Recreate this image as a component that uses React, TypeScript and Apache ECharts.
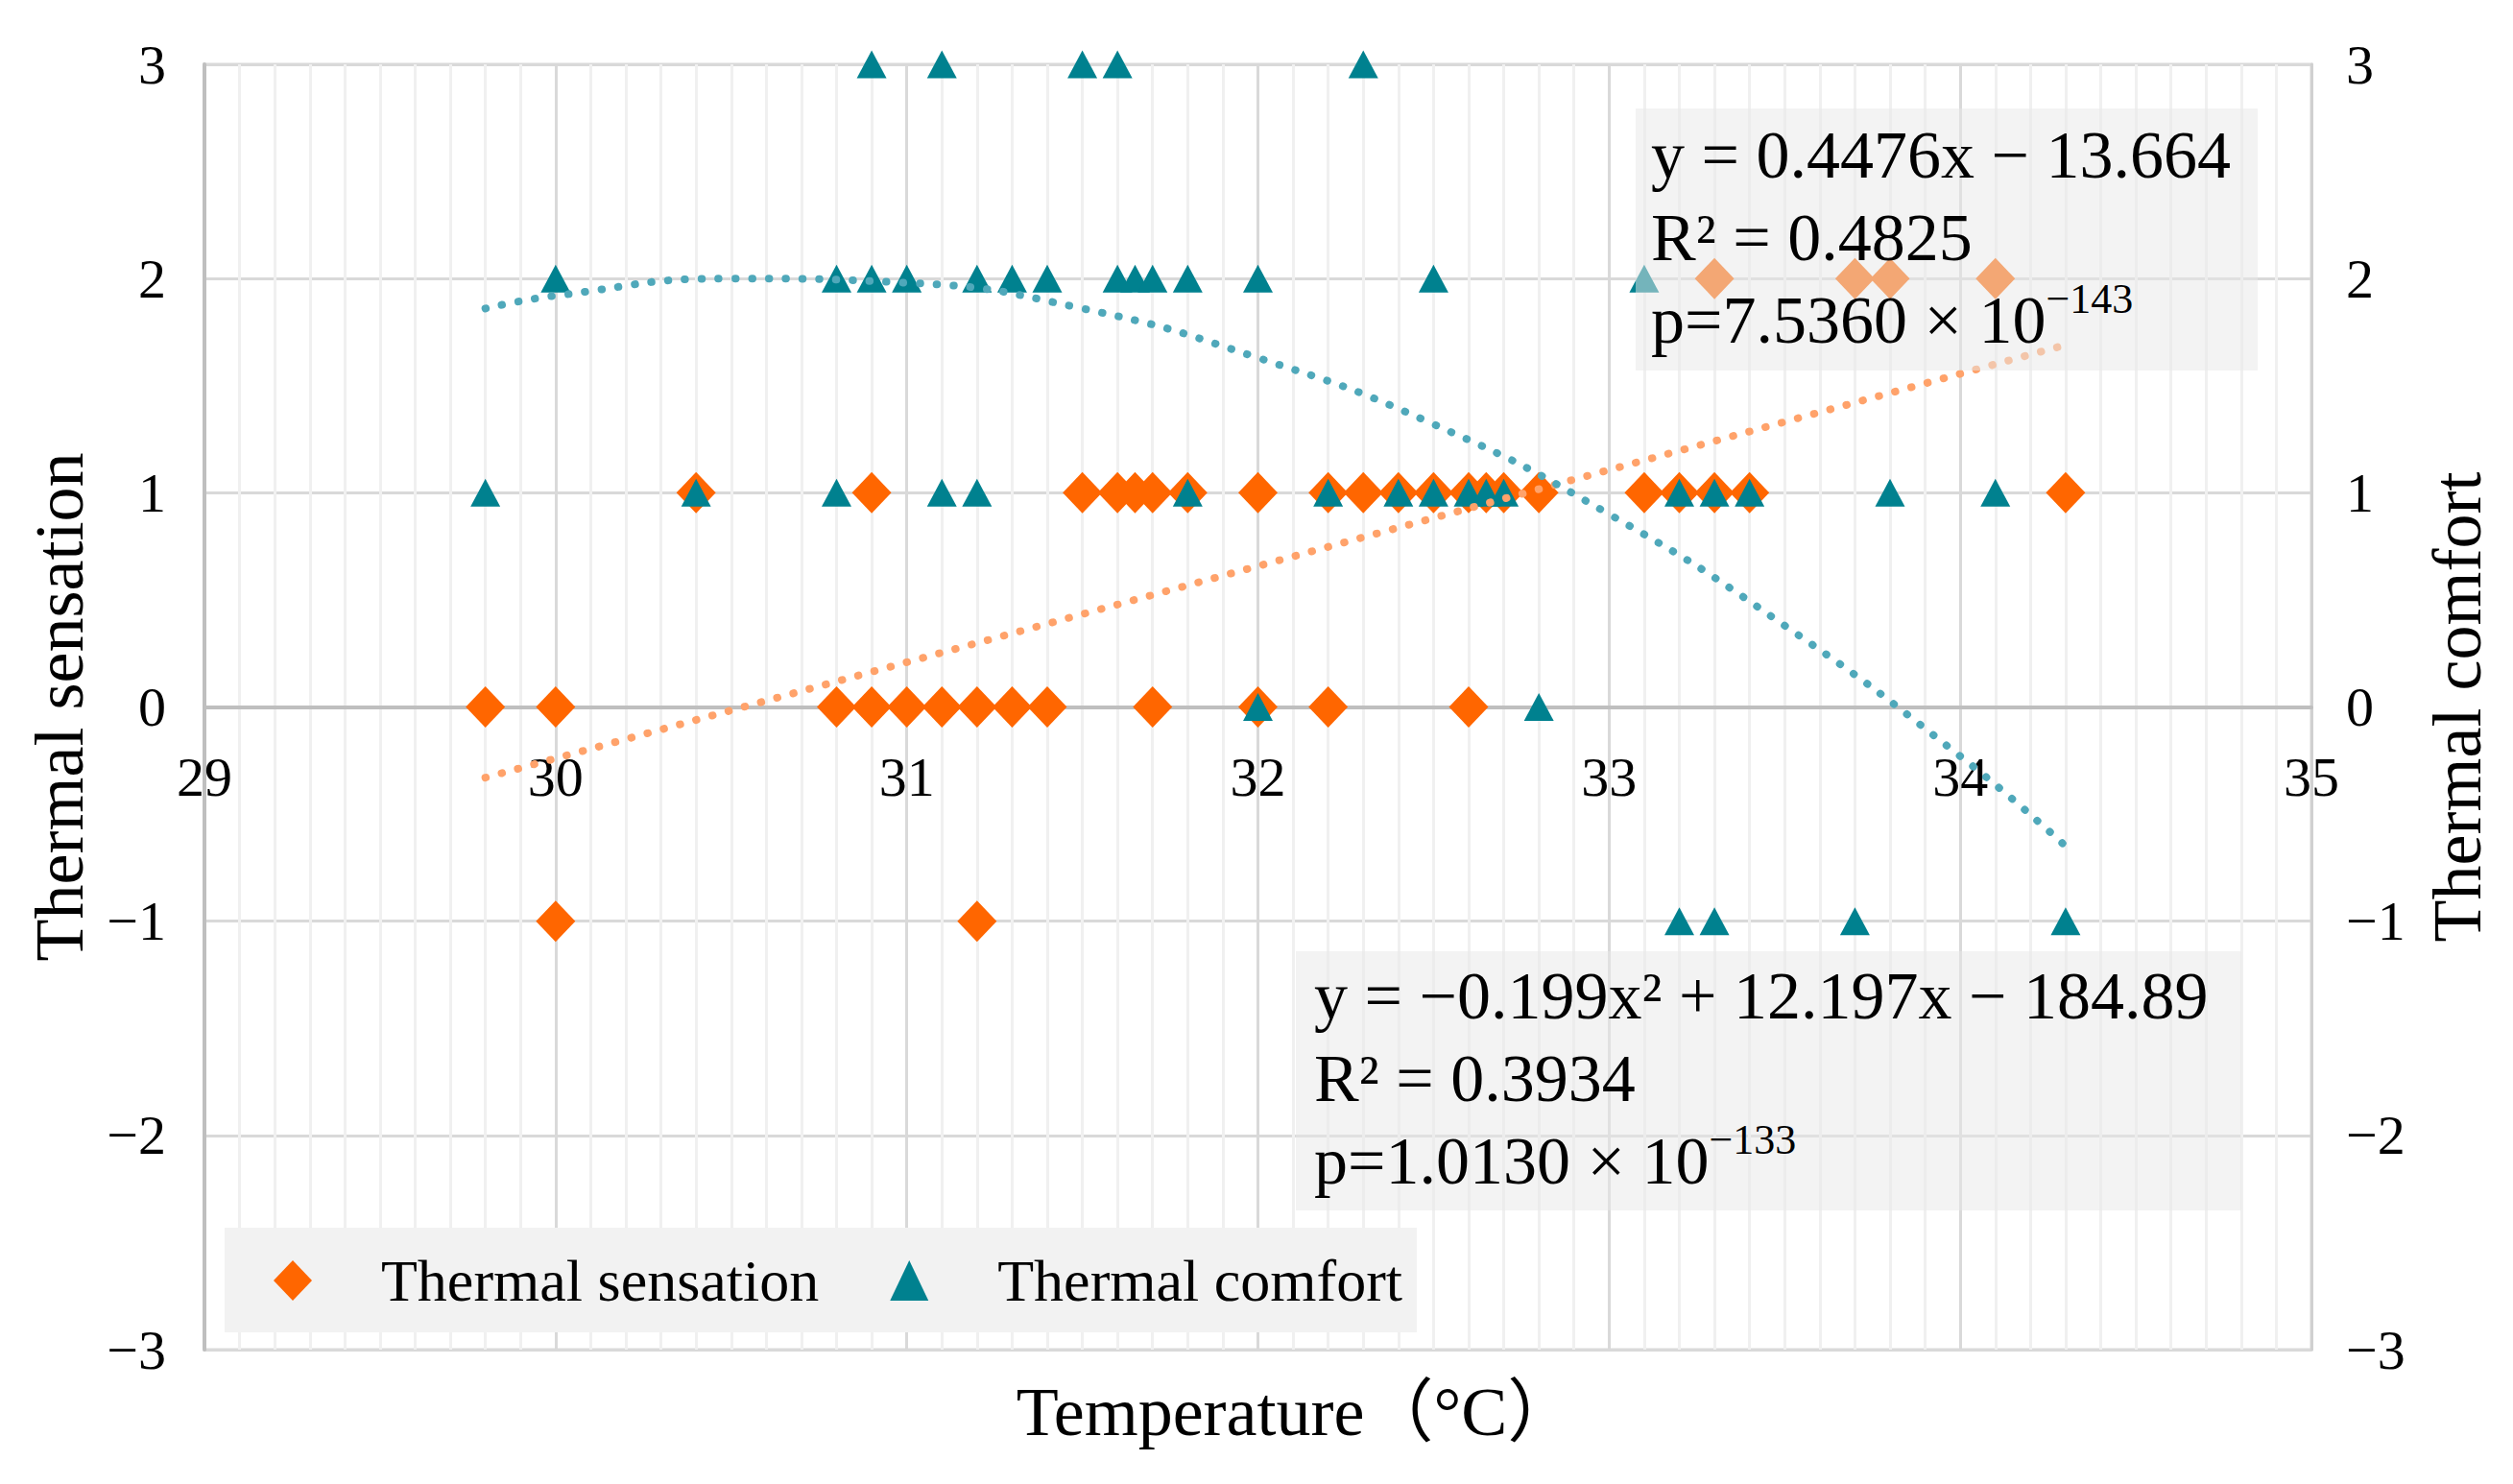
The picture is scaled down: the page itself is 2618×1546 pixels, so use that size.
import React, { useEffect, useRef } from "react";
import * as echarts from "echarts";

// Thermal sensation votes (diamonds)
const sensationTemp = [
  29.8, 30.0, 30.8, 30.9, 31.0, 31.1, 31.2, 31.3, 31.4, 31.7, 32.0, 32.2, 32.6,
  30.4, 30.9, 31.5, 31.6, 31.65, 31.7, 31.8, 32.0, 32.2, 32.3, 32.4, 32.5, 32.6, 32.65, 32.7, 32.8, 33.1, 33.2, 33.3, 33.4, 34.3,
  33.3, 33.7, 33.8, 34.1,
  30.0, 31.2,
];
const sensationVote = [
  0, 0, 0, 0, 0, 0, 0, 0, 0, 0, 0, 0, 0,
  1, 1, 1, 1, 1, 1, 1, 1, 1, 1, 1, 1, 1, 1, 1, 1, 1, 1, 1, 1, 1,
  2, 2, 2, 2,
  -1, -1,
];

// Thermal comfort votes (triangles)
const comfortTemp = [
  30.9, 31.1, 31.5, 31.6, 32.3,
  30.0, 30.8, 30.9, 31.0, 31.2, 31.3, 31.4, 31.6, 31.65, 31.7, 31.8, 32.0, 32.5, 33.1,
  29.8, 30.4, 30.8, 31.1, 31.2, 31.8, 32.2, 32.4, 32.5, 32.6, 32.65, 32.7, 33.2, 33.3, 33.4, 33.8, 34.1,
  32.0, 32.8,
  33.2, 33.3, 33.7, 34.3,
];
const comfortVote = [
  3, 3, 3, 3, 3,
  2, 2, 2, 2, 2, 2, 2, 2, 2, 2, 2, 2, 2, 2,
  1, 1, 1, 1, 1, 1, 1, 1, 1, 1, 1, 1, 1, 1, 1, 1, 1,
  0, 0,
  -1, -1, -1, -1,
];

// trend lines
const sensationTrendTemp = [29.8, 34.3];
const sensationTrendValue = [-0.33, 1.69];
const comfortTrendTemp = [29.8, 30.0, 30.5, 31.0, 31.5, 32.0, 32.5, 33.0, 33.5, 34.0, 34.3];
const comfortTrendValue = [1.86, 1.92, 2.0, 1.98, 1.86, 1.63, 1.32, 0.9, 0.38, -0.23, -0.65];

// fit labels ({s|..} = superscript)
const linearText = ["y = 0.4476x − 13.664", "R² = 0.4825", "p=7.5360 × 10{s|−143}"];
const quadText = ["y = −0.199x² + 12.197x − 184.89", "R² = 0.3934", "p=1.0130 × 10{s|−133}"];

const serif = '"Times New Roman", "Liberation Serif", "Noto Sans CJK SC", serif';
const ORANGE = "#FF6600";
const TEAL = "#00818F";

const zip = (xs: number[], ys: number[]) => xs.map((x, i) => [x, ys[i]]);
const minus = (v: number) => (v < 0 ? "−" + Math.abs(v) : String(v));

const fitLabel = (lines: string[], x: number, y: number) => ({
  type: "text",
  z: 101,
  x,
  y,
  style: {
    text: lines.join("\n"),
    fontFamily: serif,
    fontSize: 70,
    lineHeight: 86,
    fill: "#000",
    rich: {
      s: { fontFamily: serif, fontSize: 44, lineHeight: 56, verticalAlign: "top", fill: "#000" },
    },
  },
});

const App = () => {
  const chartRef = useRef<HTMLDivElement>(null);

  useEffect(() => {
    if (!chartRef.current) return;
    const chart = echarts.init(chartRef.current, null, { renderer: "svg" });

    const yAxisBase = {
      type: "value",
      min: -3,
      max: 3,
      interval: 1,
      nameLocation: "middle",
      nameTextStyle: { fontFamily: serif, fontSize: 72, color: "#000" },
      axisTick: { show: false },
      axisLabel: { fontFamily: serif, fontSize: 58, color: "#000", formatter: minus },
    };

    chart.setOption({
      animation: false,
      backgroundColor: "#fff",
      textStyle: { fontFamily: serif },
      grid: {
        left: 213,
        right: 210,
        top: 67,
        bottom: 140,
        containLabel: false,
        outerBoundsMode: "none",
        show: true,
        borderColor: "#d9d9d9",
        borderWidth: 3,
      },
      legend: {
        left: 234,
        top: 1279,
        orient: "horizontal",
        backgroundColor: "#f2f2f2",
        padding: [24, 15, 23, 51],
        itemGap: 74,
        itemWidth: 40,
        itemHeight: 42,
        data: ["Thermal sensation", "Thermal comfort"],
        textStyle: {
          fontFamily: serif,
          fontSize: 62,
          lineHeight: 62,
          color: "#000",
          padding: [0, 0, 0, 67],
        },
      },
      xAxis: {
        type: "value",
        min: 29,
        max: 35,
        interval: 1,
        // axis line and labels sit on the y = 0 line
        offset: -669.5,
        name: "Temperature（°C）",
        nameLocation: "middle",
        nameGap: 698,
        nameTextStyle: { fontFamily: serif, fontSize: 72, color: "#000", padding: [0, 0, 0, 80] },
        axisLine: { onZero: false, lineStyle: { color: "#bfbfbf", width: 4 } },
        axisTick: { show: false },
        minorTick: { show: false, splitNumber: 10 },
        axisLabel: { fontFamily: serif, fontSize: 58, color: "#000", margin: 44 },
        splitLine: { show: true, lineStyle: { color: "#d9d9d9", width: 3 } },
        minorSplitLine: { show: true, lineStyle: { color: "#f0f0f0", width: 3 } },
      },
      yAxis: [
        {
          ...yAxisBase,
          position: "left",
          name: "Thermal sensation",
          nameGap: 115,
          axisLine: { show: true, onZero: false, lineStyle: { color: "#bfbfbf", width: 4 } },
          axisLabel: { ...yAxisBase.axisLabel, margin: 40 },
          splitLine: { show: true, lineStyle: { color: "#d9d9d9", width: 3 } },
        },
        {
          ...yAxisBase,
          position: "right",
          name: "Thermal comfort",
          nameGap: 116,
          axisLine: { show: true, onZero: false, lineStyle: { color: "#d0d0d0", width: 3 } },
          axisLabel: { ...yAxisBase.axisLabel, margin: 36 },
          splitLine: { show: false },
        },
      ],
      series: [
        {
          name: "Thermal sensation",
          type: "scatter",
          symbol: "diamond",
          symbolSize: [41, 43],
          itemStyle: { color: ORANGE, opacity: 1 },
          data: zip(sensationTemp, sensationVote),
          z: 2,
        },
        {
          name: "Thermal comfort",
          type: "scatter",
          yAxisIndex: 1,
          symbol: "triangle",
          symbolSize: [31, 29],
          itemStyle: { color: TEAL, opacity: 1 },
          data: zip(comfortTemp, comfortVote),
          z: 2,
        },
        {
          name: "sensation trend",
          type: "line",
          showSymbol: false,
          silent: true,
          lineStyle: { color: "#FFA26A", width: 8, type: [0.5, 17], cap: "round" },
          data: zip(sensationTrendTemp, sensationTrendValue),
          z: 3,
        },
        {
          name: "comfort trend",
          type: "line",
          yAxisIndex: 1,
          showSymbol: false,
          silent: true,
          smooth: 0.5,
          lineStyle: { color: "#4FA8BA", width: 8, type: [0.5, 17], cap: "round" },
          data: zip(comfortTrendTemp, comfortTrendValue),
          z: 3,
        },
      ],
      graphic: [
        {
          type: "rect",
          z: 100,
          shape: { x: 1704, y: 113, width: 648, height: 273 },
          style: { fill: "rgba(232,232,232,0.5)" },
        },
        fitLabel(linearText, 1720, 118),
        {
          type: "rect",
          z: 100,
          shape: { x: 1350, y: 991, width: 985, height: 270 },
          style: { fill: "rgba(232,232,232,0.5)" },
        },
        fitLabel(quadText, 1369, 994),
      ],
    });

    const handleResize = () => chart.resize();
    window.addEventListener("resize", handleResize);

    return () => {
      window.removeEventListener("resize", handleResize);
      chart.dispose();
    };
  }, []);

  return (
    <div
      ref={chartRef}
      style={{ position: "fixed", left: 0, top: 0, width: "2618px", height: "1546px", background: "#fff" }}
    />
  );
};

export default App;
